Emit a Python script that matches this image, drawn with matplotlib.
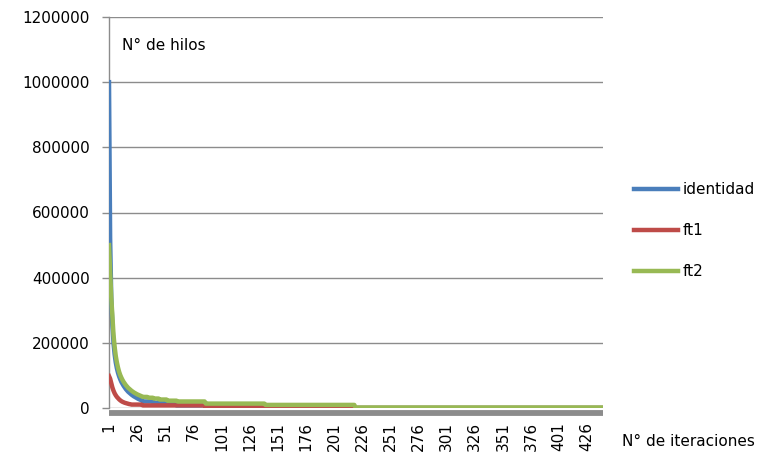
import numpy as np
import matplotlib
matplotlib.use("Agg")
from matplotlib import pyplot as plt

# valores (una entrada por iteracion)
identidad = ([1000000, 520000, 340000, 255000, 200000, 165000, 140000, 122000, 108000, 97000,
              88000, 80000, 74000, 68000, 63000, 58000, 54000, 50000, 47000, 44000,
              41000, 38500, 36000, 34000, 32000, 30000, 28000, 26500, 25000, 23500]
             + [20000] * 10 + [16000] * 10 + [12000] * 10 + [8000] * 26
             + [1500] * 18 + [0] * 336)

ft1 = ([98000, 90000, 76000, 63000, 53000, 45000, 39000, 34000, 30000, 26500,
        23500, 21000, 19000, 17500, 16000, 15000, 14000, 13000, 12000, 11500]
       + [10500] * 10 + [8000] * 56 + [3500] * 53 + [1000] * 80 + [0] * 221)

ft2 = ([500000, 420000, 340000, 280000, 225000, 188000, 160000, 140000, 124000, 111000,
        101000, 93000, 86000, 80000, 75000, 70000, 66000, 62000, 59000, 56000,
        53000, 50500, 48000, 46000, 44000, 42000, 40500, 39000, 37500, 36000]
       + [34000] * 5 + [31500] * 5 + [29000] * 5 + [26000] * 7 + [22500] * 9
       + [20000] * 25 + [13500] * 53 + [9500] * 80 + [1500] * 221)

iteraciones = np.arange(1, len(identidad) + 1)
etiquetas_x = iteraciones[::25]
yticks = [0, 200000, 400000, 600000, 800000, 1000000, 1200000]

plt.rcParams['font.family'] = ['DejaVu Sans']
fig = plt.figure(figsize=(7.74, 4.57), dpi=100)
ax = fig.add_axes([109 / 774, 1 - 408 / 457, (603 - 109) / 774, (408 - 17) / 457])

lw = 3.2
ax.plot(iteraciones, identidad, color="#4A7EBB", linewidth=lw, label="identidad",
        solid_joinstyle="round", zorder=3)
ax.plot(iteraciones, ft1, color="#BE4B48", linewidth=lw, label="ft1",
        solid_joinstyle="round", zorder=4)
ax.plot(iteraciones, ft2, color="#98B954", linewidth=lw, label="ft2",
        solid_joinstyle="round", zorder=5)

# banda gris bajo el eje de categorias
ax.plot([0, 1], [-0.012, -0.012], transform=ax.transAxes, color="#8C8C8C",
        linewidth=4.2, solid_capstyle="butt", clip_on=False, zorder=6)

ax.set_xlim(1, len(identidad))
ax.set_ylim(0, 1200000)
ax.set_yticks(yticks)
ax.set_yticklabels([str(v) for v in yticks], fontsize=11)
ax.set_xticks(etiquetas_x)
ax.set_xticklabels([str(v) for v in etiquetas_x], rotation=90, fontsize=11, va="top")
ax.tick_params(axis="x", length=0, pad=10)
ax.tick_params(axis="y", length=5, width=1, color="#8C8C8C", pad=9)

ax.grid(axis="y", color="#8C8C8C", linewidth=1)
ax.set_axisbelow(True)
for s in ["top", "right", "bottom"]:
    ax.spines[s].set_visible(False)
ax.spines["left"].set_color("#8C8C8C")
ax.spines["left"].set_linewidth(1)

ax.text(122 / 774, 1 - 46 / 457, "N° de hilos", transform=fig.transFigure,
        fontsize=11, va="center", ha="left")
fig.text(622 / 774, 1 - 441 / 457, "N° de iteraciones", fontsize=11,
         va="center", ha="left")

ax.legend(loc="center left", bbox_to_anchor=(634 / 774, 1 - 230.5 / 457),
          bbox_transform=fig.transFigure, frameon=False, fontsize=11,
          handlelength=2.9, handletextpad=0.3, labelspacing=1.7, borderpad=0,
          borderaxespad=0)

fig.savefig("out.png", dpi=100)
